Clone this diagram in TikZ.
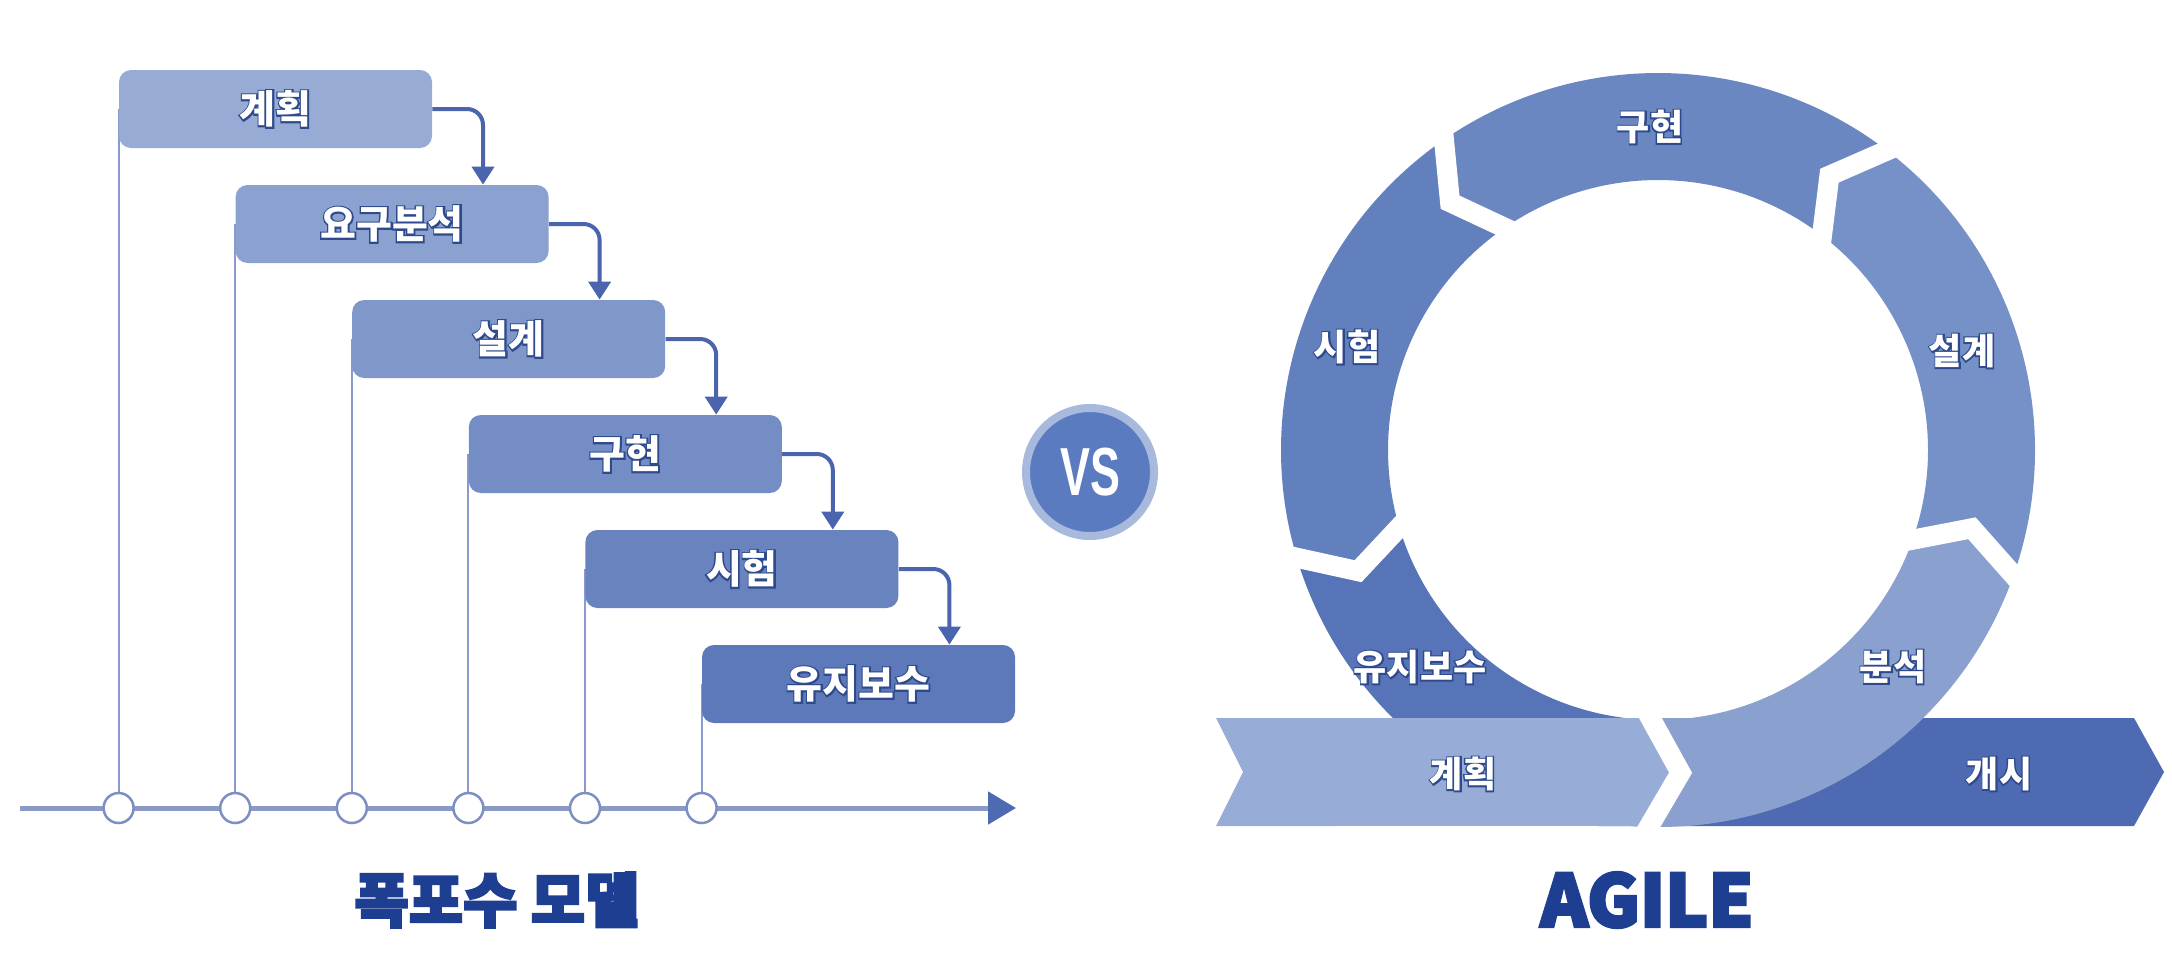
\documentclass[tikz,border=0pt]{standalone}
\usepackage{fontspec}
\usetikzlibrary{arrows.meta,calc}
\newfontfamily\kr{Noto Sans CJK KR}
\newfontfamily\krsh{Noto Sans CJK KR}[FakeBold=8]
\newfontfamily\krttl{Noto Sans CJK KR}[FakeBold=4]
\newfontfamily\vsfont{Liberation Sans}[FakeStretch=0.66]
\definecolor{wbA}{HTML}{97ABD5}
\definecolor{wbB}{HTML}{8BA1CF}
\definecolor{wbC}{HTML}{8097CA}
\definecolor{wbD}{HTML}{748DC4}
\definecolor{wbE}{HTML}{6983BF}
\definecolor{wbF}{HTML}{5D79B9}
\definecolor{conc}{HTML}{4A64AE}
\definecolor{vlc}{HTML}{8A9ACF}
\definecolor{axc}{HTML}{8B9AC4}
\definecolor{axtip}{HTML}{4D6AB2}
\definecolor{tkc}{HTML}{7D8EC3}
\definecolor{lblsh}{HTML}{2E4A8C}
\definecolor{ttl}{HTML}{1E3F91}
\definecolor{vsfill}{HTML}{5B7BC0}
\definecolor{vsring}{HTML}{A8B9DE}
\definecolor{agImp}{HTML}{6A87C1}
\definecolor{agDes}{HTML}{7591C8}
\definecolor{agTst}{HTML}{6280BE}
\definecolor{agMnt}{HTML}{5674B7}
\definecolor{agAna}{HTML}{8AA0CF}
\definecolor{agPln}{HTML}{97ACD6}
\definecolor{agLch}{HTML}{4D6AB2}
\newcommand\olbl[1]{\rlap{\textcolor{lblsh}{\krsh\bfseries #1}}\textcolor{white}{\kr\bfseries #1}}
\pgfdeclarelayer{back}\pgfdeclarelayer{bg}\pgfsetlayers{back,bg,main}
\def\RRo{377}\def\RRi{270}\def\RRm{323.5}\def\RRd{5.4}
\newcommand\ringseg[2]{\fill[#2] (#1:\RRo) arc[start angle=#1, delta angle=72, radius=\RRo] -- ({#1+72+\RRd}:\RRm) -- ({#1+72}:\RRi) arc[start angle={#1+72}, delta angle=-72, radius=\RRi] -- ({#1+\RRd}:\RRm) -- cycle;}
\newcommand\gapline[1]{\draw[gap] ($({#1+\RRd}:\RRm)!1.4!(#1:\RRo)$) -- ({#1+\RRd}:\RRm) -- ($({#1+\RRd}:\RRm)!1.4!(#1:\RRi)$);}
\begin{document}
\begin{tikzpicture}[x=0.5pt,y=-0.5pt,
  wbox/.style={rounded corners=6pt, minimum width=156.5pt, minimum height=39pt, inner sep=0pt, font=\fontsize{19.5pt}{22pt}\selectfont},
  conn/.style={draw=conc, line width=2pt, rounded corners=8pt, -{Triangle[length=9pt,width=11pt]}},
  vline/.style={draw=vlc, line width=1pt},
  tick/.style={circle, draw=tkc, fill=white, line width=1.25pt, minimum size=15pt, inner sep=0pt},
  axisline/.style={draw=axc, line width=2.5pt, -{Triangle[length=14pt,width=16pt,color=axtip]}},
  lbl/.style={inner sep=0pt, font=\fontsize{18pt}{21pt}\selectfont},
  gap/.style={draw=white, line width=10pt},
  ttlnode/.style={inner sep=0pt, text=ttl}]
\useasboundingbox (0,0) rectangle (2172,964);
\begin{pgfonlayer}{back}\fill[white] (0,0) rectangle (2172,964);\end{pgfonlayer}
% waterfall
\node[wbox, fill=wbA] (b1) at (275.5,109) {\olbl{계획}};
\node[wbox, fill=wbB] (b2) at (392.1,224) {\olbl{요구분석}};
\node[wbox, fill=wbC] (b3) at (508.7,339) {\olbl{설계}};
\node[wbox, fill=wbD] (b4) at (625.3,454) {\olbl{구현}};
\node[wbox, fill=wbE] (b5) at (741.9,569) {\olbl{시험}};
\node[wbox, fill=wbF] (b6) at (858.5,684) {\olbl{유지보수}};
\foreach \i in {1,...,6} \node[tick] (c\i) at (b\i.west |- 0,808) {};
\foreach \i/\j in {1/2,2/3,3/4,4/5,5/6} \draw[conn] (b\i.east) -| ([xshift=-33pt]b\j.north east);
\begin{pgfonlayer}{bg}
\coordinate (axs) at (20,808);
\coordinate (axe) at (1016,808);
\draw[axisline] (axs) -- (axe);
\foreach \i in {1,...,6} \draw[vline] (b\i.west) -- (c\i.center);
\end{pgfonlayer}
\node[ttlnode, font=\fontsize{29.5pt}{33pt}\selectfont\krttl\bfseries] (ttlW) at (497,900) {폭포수 모델};
% vs
\node[circle, fill=vsfill, draw=vsring, line width=4pt, minimum size=64pt, inner sep=0pt, text=white, font=\fontsize{34pt}{36pt}\selectfont\vsfont\bfseries] (vs) at (1090,472) {VS};
% agile
\begin{scope}[shift={(1658,450)}, y=0.5pt]
 \coordinate (K) at ({268.6+\RRd}:\RRm);
 \coordinate (I) at (268.6:\RRi);
 \coordinate (O) at (268.6:\RRo);
 \coordinate (PT) at ($(K)!1.036!(I)$);
 \coordinate (PB) at ($(K)!0.983!(O)$);
 \fill[agLch] (-60,-268) -- (476,-268) -- (506,-322) -- (476,-376) -- (-60,-376) -- cycle;
 \ringseg{52.6}{agImp}
 \ringseg{124.6}{agTst}
 \ringseg{196.6}{agMnt}
 \ringseg{268.6}{agAna}
 \ringseg{340.6}{agDes}
 \begin{scope}
  \clip (0,0) circle[radius=\RRo];
  \fill[agAna] (PT) -- (K) -- (PB) -- (600,-376) -- (600,-268) -- cycle;
 \end{scope}
 \fill[agPln] (-442,-376) -- (-415,-322) -- (-442,-268) -- (PT) -- (K) -- (PB) -- cycle;
 \foreach \a in {52.6,124.6,196.6,268.6,340.6} {\gapline{\a}}
\end{scope}
\node[lbl] (lImp) at (1650,127) {\olbl{구현}};
\node[lbl] (lDes) at (1962,351) {\olbl{설계}};
\node[lbl] (lTst) at (1347,347) {\olbl{시험}};
\node[lbl] (lMnt) at (1420,667) {\olbl{유지보수}};
\node[lbl] (lAna) at (1893,667) {\olbl{분석}};
\node[lbl] (lPln) at (1463,774) {\olbl{계획}};
\node[lbl] (lLch) at (1999,774) {\olbl{개시}};
\node[ttlnode, font=\fontsize{36pt}{40pt}\selectfont\krttl\bfseries] (ttlA) at (1647,900) {AGILE};
\end{tikzpicture}
\end{document}
